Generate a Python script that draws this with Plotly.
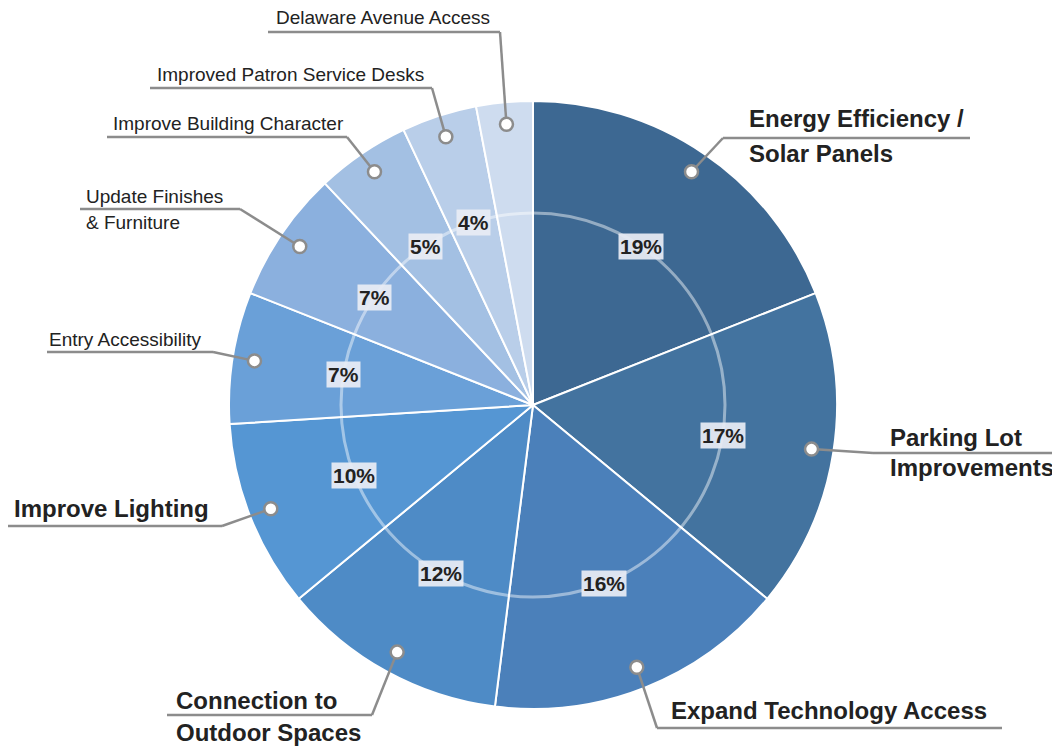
import math
import plotly.graph_objects as go

# ---- data ----
categories = [
    "Energy Efficiency / Solar Panels",
    "Parking Lot Improvements",
    "Expand Technology Access",
    "Connection to Outdoor Spaces",
    "Improve Lighting",
    "Entry Accessibility",
    "Update Finishes & Furniture",
    "Improve Building Character",
    "Improved Patron Service Desks",
    "Delaware Avenue Access",
]
values = [19, 17, 16, 12, 10, 7, 7, 5, 4, 3]
pct_labels = ["19%", "17%", "16%", "12%", "10%", "7%", "7%", "5%", "4%", ""]
colors = ["#3d6892", "#43739f", "#4b80ba", "#4e8bc6", "#5596d3",
          "#6aa0d8", "#8bb0de", "#a3c0e3", "#b9cee9", "#cedcef"]

# ---- layout (pixels, in page coordinates; the page body has an 8px margin) ----
OFF = 8
W, H = 1060 - OFF, 746 - OFF
CX, CY, R = 533, 405, 304
RING_R = 192
DOT_R = 282

# label layout: text lines (text, y-center), text x, underline (x0, x1, y), elbow point, bold
label_layout = [
    dict(lines=[("Energy Efficiency /", 118), ("Solar Panels", 153)], tx=747, ul=(723, 970, 138), elbow=(723, 138), bold=True),
    dict(lines=[("Parking Lot", 437), ("Improvements", 468)], tx=888, ul=(873, 1055, 453), elbow=(873, 453), bold=True),
    dict(lines=[("Expand Technology Access", 710)], tx=669, ul=(657, 1002, 728), elbow=(657, 728), bold=True),
    dict(lines=[("Connection to", 700), ("Outdoor Spaces", 732)], tx=174, ul=(167, 372, 715), elbow=(372, 715), bold=True),
    dict(lines=[("Improve Lighting", 508)], tx=12, ul=(8, 222, 526), elbow=(222, 526), bold=True),
    dict(lines=[("Entry Accessibility", 339)], tx=47, ul=(47, 213, 352), elbow=(213, 352), bold=False),
    dict(lines=[("Update Finishes", 196), ("& Furniture", 223)], tx=84, ul=(80, 240, 209), elbow=(240, 209), bold=False),
    dict(lines=[("Improve Building Character", 124)], tx=111, ul=(107, 347, 137), elbow=(347, 137), bold=False),
    dict(lines=[("Improved Patron Service Desks", 74)], tx=155, ul=(150, 432, 88), elbow=(432, 88), bold=False),
    dict(lines=[("Delaware Avenue Access", 18)], tx=274, ul=(268, 500, 32), elbow=(500, 32), bold=False),
]

FONT = "Liberation Sans, Arial, Helvetica, sans-serif"
LINE_COL = "#8c8c8c"


def px(x):
    return (x - OFF) / W


def py(y):
    return 1 - (y - OFF) / H


fig = go.Figure()
fig.add_trace(go.Pie(
    labels=categories,
    values=values,
    sort=False,
    direction="clockwise",
    rotation=0,
    textinfo="none",
    hoverinfo="label+percent",
    marker=dict(colors=colors, line=dict(color="white", width=2)),
    domain=dict(x=[px(CX - R), px(CX + R)], y=[py(CY + R), py(CY - R)]),
    showlegend=False,
))

shapes = []
annotations = []

# inner ring
shapes.append(dict(type="circle", xref="paper", yref="paper",
                   x0=px(CX - RING_R), x1=px(CX + RING_R),
                   y0=py(CY + RING_R), y1=py(CY - RING_R),
                   line=dict(color="rgba(255,255,255,0.45)", width=3)))

total = sum(values)
cum = 0
for i, v in enumerate(values):
    mid = (cum + v / 2) / total * 2 * math.pi
    cum += v
    # percent label on ring
    if pct_labels[i]:
        lx = CX + RING_R * math.sin(mid)
        ly = CY - RING_R * math.cos(mid)
        annotations.append(dict(
            x=px(lx), y=py(ly), xref="paper", yref="paper",
            text="<b>%s</b>" % pct_labels[i], showarrow=False,
            font=dict(family=FONT, size=21, color="#222222"),
            bgcolor="rgba(232,236,244,0.93)", borderpad=1,
            xanchor="center", yanchor="middle"))
    # leader dot and lines
    dx = CX + DOT_R * math.sin(mid)
    dy = CY - DOT_R * math.cos(mid)
    lay = label_layout[i]
    ex, ey = lay["elbow"]
    x0, x1, uy = lay["ul"]
    shapes.append(dict(type="path", xref="paper", yref="paper",
                       path="M %f,%f L %f,%f" % (px(dx), py(dy), px(ex), py(ey)),
                       line=dict(color=LINE_COL, width=2.5)))
    shapes.append(dict(type="line", xref="paper", yref="paper",
                       x0=px(x0), x1=px(x1), y0=py(uy), y1=py(uy),
                       line=dict(color=LINE_COL, width=2.5)))
    shapes.append(dict(type="circle", xref="paper", yref="paper",
                       x0=px(dx - 6.5), x1=px(dx + 6.5),
                       y0=py(dy + 6.5), y1=py(dy - 6.5),
                       fillcolor="white", line=dict(color=LINE_COL, width=2.5)))
    for text, ty in lay["lines"]:
        annotations.append(dict(
            x=px(lay["tx"]), y=py(ty), xref="paper", yref="paper",
            text=("<b>%s</b>" % text) if lay["bold"] else text,
            showarrow=False,
            font=dict(family=FONT, size=24 if lay["bold"] else 19, color="#222222"),
            xanchor="left", yanchor="middle"))

fig.update_layout(
    width=W, height=H,
    margin=dict(l=0, r=0, t=0, b=0),
    paper_bgcolor="white", plot_bgcolor="white",
    shapes=shapes, annotations=annotations,
)

fig.write_html("out.html")
